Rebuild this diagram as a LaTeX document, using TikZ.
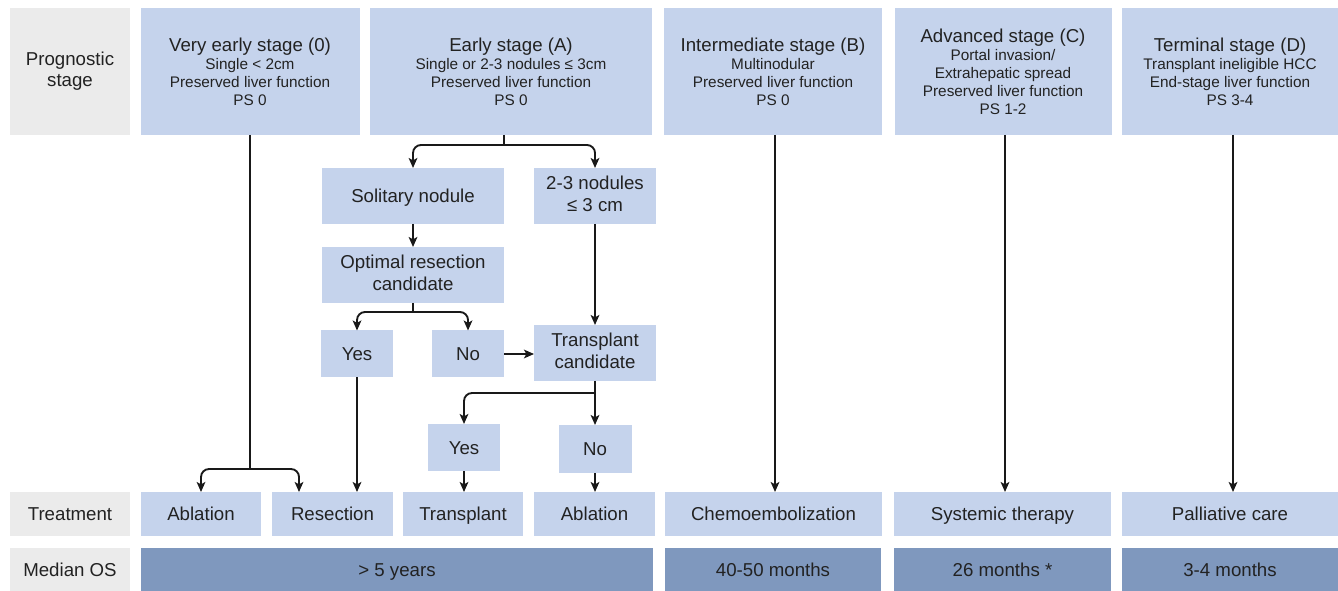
\documentclass[tikz,border=0pt]{standalone}
\usepackage{fontspec}
\setmainfont{Liberation Sans}
\usetikzlibrary{arrows.meta,calc}
\definecolor{lb}{HTML}{C5D3EC}
\definecolor{db}{HTML}{7F98BE}
\definecolor{gb}{HTML}{EBEBEB}
\definecolor{tx}{HTML}{222222}
\newcommand\mystrut{\rule[-3.2pt]{0pt}{16.4pt}}
\begin{document}
\begin{tikzpicture}[x=0.75pt,y=-0.75pt,
  box/.style 2 args={inner sep=0pt, outer sep=0pt, minimum width=#1*0.75pt, minimum height=#2*0.75pt, align=center, text=tx, font=\fontsize{14}{16}\selectfont,
    execute at begin node=\mystrut, execute at end node=\mystrut},
  lbox/.style 2 args={box={#1}{#2}, fill=lb},
  dbox/.style 2 args={box={#1}{#2}, fill=db},
  gbox/.style 2 args={box={#1}{#2}, fill=gb},
  hbox/.style 2 args={inner sep=0pt, outer sep=0pt, minimum width=#1*0.75pt, minimum height=#2*0.75pt, align=center, text=tx, fill=lb, font=\fontsize{11.5}{13.5}\selectfont},
  ln/.style={line width=1.4pt, draw=black!90},
  arr/.style={ln, -{Stealth[length=7.5pt,width=6.5pt,inset=1.8pt]}},
  rc/.style={rounded corners=6pt}
]
\useasboundingbox (0,0) rectangle (1338,591);
% header row
\node[gbox={120}{127}] (pg) at (70,71.5) {Prognostic\\stage};
\node[hbox={219}{127}] (h0) at (250,71.5) {{\fontsize{14}{16}\selectfont Very early stage (0)}\\Single < 2cm\\Preserved liver function\\PS 0};
\node[hbox={282}{127}] (hA) at (511,71.5) {{\fontsize{14}{16}\selectfont Early stage (A)}\\Single or 2-3 nodules ≤ 3cm\\Preserved liver function\\PS 0};
\node[hbox={218}{127}] (hB) at (773,71.5) {{\fontsize{14}{16}\selectfont Intermediate stage (B)}\\Multinodular\\Preserved liver function\\PS 0};
\node[hbox={217}{127}] (hC) at (1003,71.5) {{\fontsize{14}{16}\selectfont Advanced stage (C)}\\Portal invasion/\\Extrahepatic spread\\Preserved liver function\\PS 1-2};
\node[hbox={216}{127}] (hD) at (1230,71.5) {{\fontsize{14}{16}\selectfont Terminal stage (D)}\\Transplant ineligible HCC\\End-stage liver function\\PS 3-4};
% middle
\node[lbox={182}{56}] (sol) at (413,196) {Solitary nodule};
\node[lbox={122}{56}] (n23) at (595,196) {2-3 nodules\\≤ 3 cm};
\node[lbox={182}{56}] (opt) at (413,275) {Optimal resection\\candidate};
\node[lbox={72}{47}] (y1) at (357,354) {Yes};
\node[lbox={72}{47}] (no1) at (468,354) {No};
\node[lbox={122}{56}] (tc) at (595,353) {Transplant\\candidate};
\node[lbox={72}{47}] (y2) at (464,447.5) {Yes};
\node[lbox={73}{48}] (no2) at (595,449) {No};
% treatment row
\node[gbox={120}{44}] (tg) at (70,514) {Treatment};
\node[lbox={120}{44}] (t1) at (201,514) {Ablation};
\node[lbox={121}{44}] (t2) at (332.5,514) {Resection};
\node[lbox={120}{44}] (t3) at (463,514) {Transplant};
\node[lbox={121}{44}] (t4) at (594.5,514) {Ablation};
\node[lbox={217}{44}] (tB) at (773.5,514) {Chemoembolization};
\node[lbox={217}{44}] (tC) at (1002.5,514) {Systemic therapy};
\node[lbox={216}{44}] (tD) at (1230,514) {Palliative care};
% median OS row
\node[gbox={120}{43}] (og) at (70,569.5) {Median OS};
\node[dbox={512}{43}] (o1) at (397,569.5) {> 5 years};
\node[dbox={216}{43}] (oB) at (773,569.5) {40-50 months};
\node[dbox={217}{43}] (oC) at (1002.5,569.5) {26 months *};
\node[dbox={216}{43}] (oD) at (1230,569.5) {3-4 months};
% connectors
\coordinate (b0) at (250,469);
\draw[ln] (h0.south) -- (b0);
\draw[arr,rc] (b0) -| (t1.north);
\draw[arr,rc] (b0) -| ($(t2.north west)+(27,0)$);
\coordinate (bA) at (504,145);
\draw[ln] (bA |- hA.south) -- (bA);
\draw[arr,rc] (bA) -| (sol.north);
\draw[arr,rc] (bA) -| (n23.north);
\draw[arr] (sol.south) -- (opt.north);
\coordinate (bO) at (413,312);
\draw[ln] (opt.south) -- (bO);
\draw[arr,rc] (bO) -| (y1.north);
\draw[arr,rc] (bO) -| (no1.north);
\draw[arr] (no1.east) -- (no1.east -| tc.west);
\draw[arr] (n23.south) -- (tc.north);
\coordinate (bT) at (595,393);
\draw[ln] (tc.south) -- (bT);
\draw[arr,rc] (bT) -| (y2.north);
\draw[arr] (bT) -- (bT |- no2.north);
\draw[arr] (y1.south) -- (y1.south |- t2.north);
\draw[arr] (y2.south) -- (y2.south |- t3.north);
\draw[arr] (no2.south) -- (no2.south |- t4.north);
\draw[arr] ($(hB.south)+(2,0)$) -- ($(hB.south |- tB.north)+(2,0)$);
\draw[arr] ($(hC.south)+(2,0)$) -- ($(hC.south |- tC.north)+(2,0)$);
\draw[arr] ($(hD.south)+(3,0)$) -- ($(hD.south |- tD.north)+(3,0)$);
\end{tikzpicture}
\end{document}
